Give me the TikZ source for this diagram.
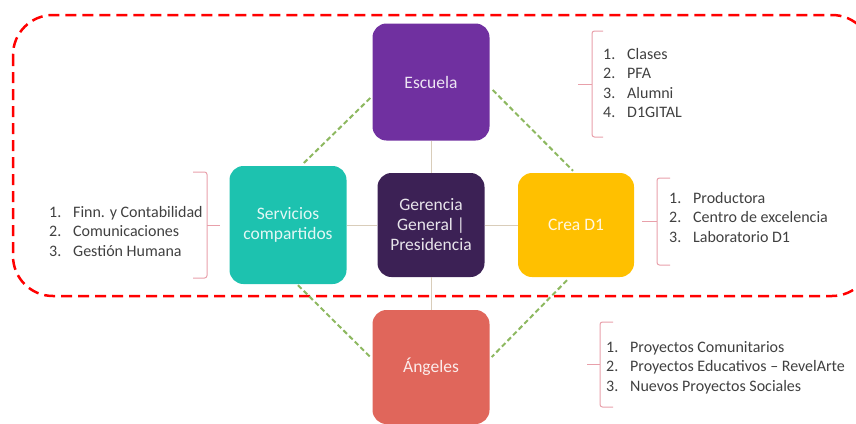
\documentclass[tikz,border=0pt]{standalone}
\usepackage{fontspec}
\setmainfont{Carlito}
\usetikzlibrary{calc}
\definecolor{cEsc}{HTML}{7030A0}
\definecolor{cSer}{HTML}{1DC2AF}
\definecolor{cGer}{HTML}{3C2155}
\definecolor{cCre}{HTML}{FFC000}
\definecolor{cAng}{HTML}{E0665B}
\definecolor{cGreen}{HTML}{8DB860}
\definecolor{cLink}{HTML}{D9CDBA}
\definecolor{cBrace}{HTML}{E8A0AA}
\definecolor{cText}{HTML}{404040}
\begin{document}
\begin{tikzpicture}[x=1pt,y=-1pt,
  box/.style={rounded corners=14pt, inner sep=0pt, align=center,
    text=white, text opacity=0.88, font=\fontsize{17.5}{20}\selectfont},
  link/.style={draw=cLink, line width=1pt},
  gdash/.style={draw=cGreen, line width=2pt, dash pattern=on 5pt off 3pt},
  bracket/.style={draw=cBrace, line width=1pt, rounded corners=2.5pt},
  lst/.style={anchor=west, inner sep=0pt, text=cText, font=\fontsize{16}{19.5}\selectfont, align=left}
]
\useasboundingbox (0,0) rectangle (856,423);
% red dashed region
\draw[red, line width=2.5pt, dash pattern=on 11pt off 6pt, rounded corners=40pt]
  (13,15) rectangle (872,296);

% boxes
\node[box, fill=cEsc, minimum width=117pt, minimum height=117pt] (esc) at (431,82) {Escuela};
\node[box, fill=cSer, minimum width=117pt, minimum height=118pt] (ser) at (288,225) {Servicios\\compartidos};
\node[box, fill=cGer, minimum width=107pt, minimum height=104pt] (ger) at (431,225) {Gerencia\\General |\\Presidencia};
\node[box, fill=cCre, minimum width=116pt, minimum height=104pt] (cre) at (576,225) {Crea D1};
\node[box, fill=cAng, minimum width=117pt, minimum height=114pt] (ang) at (431,367) {Ángeles};

% grey links
\draw[link] (esc.south) -- (ger.north);
\draw[link] (ger.south) -- (ang.north);
\draw[link] (ser.east) -- (ger.west);
\draw[link] (ger.east) -- (cre.west);

% green dashed links
\draw[gdash] ($(esc.west)+(-2,16)$) -- ($(ser.north)+(15,-2)$);
\draw[gdash] ($(esc.east)+(3,8)$) -- ($(cre.north)+(-3,-2)$);
\draw[gdash] ($(ser.south)+(10,1)$) -- ($(ang.west)+(-1,-9)$);
\draw[gdash] ($(cre.south)+(-9,3)$) -- ($(ang.east)+(2,-10)$);

% brackets
\draw[bracket] (603,31) -- (592,31) -- (592,137) -- (603,137);
\draw[cBrace, line width=1pt] (592,84) -- (578,84);
\draw[bracket] (670,178) -- (657,178) -- (657,265) -- (670,265);
\draw[cBrace, line width=1pt] (657,221) -- (642,221);
\draw[bracket] (193,172) -- (207,172) -- (207,278) -- (193,278);
\draw[cBrace, line width=1pt] (207,225) -- (220,225);
\draw[bracket] (613,322) -- (600,322) -- (600,407) -- (613,407);
\draw[cBrace, line width=1pt] (600,364) -- (587,364);

% lists
\node[lst] (lesc) at (603,84.5) {\begin{tabular}{@{}p{24pt}@{}l@{}}1. & Clases\\2. & PFA\\3. & Alumni\\4. & D1GITAL\end{tabular}};
\node[lst] (lcre) at (669,219) {\begin{tabular}{@{}p{24pt}@{}l@{}}1. & Productora\\2. & Centro de excelencia\\3. & Laboratorio D1\end{tabular}};
\node[lst] (lser) at (49,233) {\begin{tabular}{@{}p{24pt}@{}l@{}}1. & Finn. y Contabilidad\\2. & Comunicaciones\\3. & Gestión Humana\end{tabular}};
\node[lst] (lang) at (606,368) {\begin{tabular}{@{}p{24pt}@{}l@{}}1. & Proyectos Comunitarios\\2. & Proyectos Educativos – RevelArte\\3. & Nuevos Proyectos Sociales\end{tabular}};
\end{tikzpicture}
\end{document}
